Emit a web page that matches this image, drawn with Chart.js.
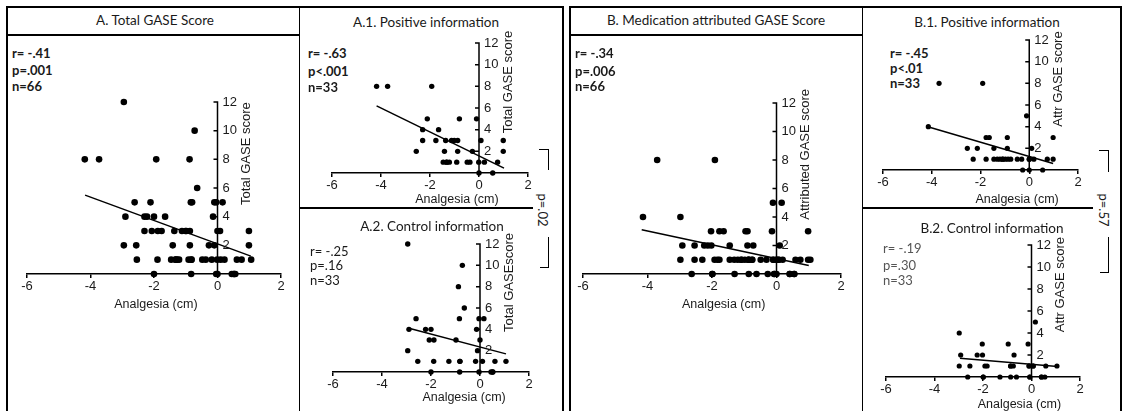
<!DOCTYPE html>
<html>
<head>
<meta charset="utf-8">
<script src="https://cdn.jsdelivr.net/npm/chart.js@4.4.1/dist/chart.umd.min.js"></script>
<style>
  body { margin: 0; background: #fff; }
  #wrap { position: relative; width: 1123px; height: 411px; overflow: hidden; font-family: Lato, "Open Sans", sans-serif; color: #1a1a1a; }
  .ln { position: absolute; background: #000; }
  .ttl { position: absolute; font-size: 13.5px; transform: translate(-50%, -50%); white-space: nowrap; }
  .st { position: absolute; font-size: 13px; transform: translateY(-50%); white-space: nowrap; }
  .pv { position: absolute; font-size: 13px; transform: translate(-50%, -50%) rotate(90deg); white-space: nowrap; }
  canvas { position: absolute; }
</style>
</head>
<body>
<div id="wrap"></div>
<script>
// values: analgesia (cm) vs GASE score
const a1X = [-4.18, -3.73, -1.93, -2.11, -0.80, -0.10, -2.30, -1.65,
  -2.30, -1.76, -1.36, -1.12, -1.01, -0.87, 0.08, 0.99,
  -2.56, -1.41, -0.87, -0.27, 0.99,
  -1.46, -1.32, -1.32, -1.21, -0.91, -0.48, -0.37, -0.01, 0.22, 0.76,
  0.00, 0.56];
const a1Y = [8, 8, 8, 5, 5, 5, 4, 4,
  3, 3, 3, 3, 3, 3, 3, 3,
  2, 2, 2, 2, 2,
  1, 1, 1, 1, 1, 1, 1, 1, 1, 1,
  0, 0];

const a2X = [-2.95, -0.72, -0.88, -0.64, -2.61, -0.84, -0.04, 0.16,
  -2.90, -2.22, -2.00, -0.14, -2.07, -1.88, -0.98, 0.00,
  -2.95, -0.10,
  -2.54, -1.89, -1.27, -0.82, -0.82, -0.18, 0.10, 0.61, 1.06,
  -2.00, -0.83, -0.04, 0.45, 0.52, 0.52];
const a2Y = [12, 10, 8, 6, 5, 5, 5, 5,
  4, 4, 4, 4, 3, 3, 3, 3,
  2, 2,
  1, 1, 1, 1, 1, 1, 1, 1, 1,
  0, 0, 0, 0, 0, 0];

const b1X = [-3.70, -1.91, -0.11, -4.14, -1.77, -1.64, -0.90, 0.98,
  -2.54, -2.13, -1.45, -0.90, 0.10,
  -2.30, -1.77, -1.45, -1.31, -1.20, -1.09, -1.09, -0.98, -0.87, -0.76, -0.49, -0.31, 0.00, 0.00, 0.19, 0.74, 0.98,
  -0.27, 0.00, 0.55];
const b1Y = [8, 8, 5, 4, 3, 3, 3, 3,
  2, 2, 2, 2, 2,
  1, 1, 1, 1, 1, 1, 1, 1, 1, 1, 1, 1, 1, 1, 1, 1, 1,
  0, 0, 0];

const b2X = [0.16, -2.98, -2.03, -0.96, -0.14, -2.92, -2.24, -2.02, -0.72,
  -2.98, -2.54, -1.92, -1.83, -0.86, -0.86, -0.75, -0.10, -0.10, 0.07, 0.07, 0.59, 1.05,
  -2.63, -1.99, -1.99, -1.30, -0.86, -0.62, -0.07, -0.07, 0.41, 0.41, 0.55];
const b2Y = [5, 4, 3, 3, 3, 2, 2, 2, 2,
  1, 1, 1, 1, 1, 1, 1, 1, 1, 1, 1, 1, 1,
  0, 0, 0, 0, 0, 0, 0, 0, 0, 0, 0];

// whole samples = positive + control groups
const aX = a1X.concat(a2X), aY = a1Y.concat(a2Y);
const bX = b1X.concat(b2X), bY = b1Y.concat(b2Y);

// regression line end points as drawn
const aFitX = [-4.17, 1.05],  aFitY = [5.5, 1.25];
const a1FitX = [-4.18, 1.02], a1FitY = [6.2, 0.45];
const a2FitX = [-2.9, 1.06],  a2FitY = [4.1, 1.7];
const bFitX = [-4.18, 1.0],   bFitY = [3.1, 0.6];
const b1FitX = [-4.16, 0.98], b1FitY = [4.0, 0.6];
const b2FitX = [-2.95, 1.07], b2FitY = [1.7, 0.95];

const yTicks = [2, 4, 6, 8, 10, 12];

const panels = [
  { title: 'A. Total GASE Score', tx: 155, ty: 20, stats: ['r= -.41', 'p=.001', 'n=66'], bold: true, sx: 12, sy: [53, 70, 86],
    xs: aX, ys: aY, fx: aFitX, fy: aFitY, yTitle: 'Total GASE score', area: [27, 102, 281, 274], r: 3.3, xtAt: -1.94, xtDy: 31 },
  { title: 'A.1. Positive information', tx: 426, ty: 22, stats: ['r= -.63', 'p<.001', 'n=33'], bold: true, sx: 308, sy: [53, 71, 87],
    xs: a1X, ys: a1Y, fx: a1FitX, fy: a1FitY, yTitle: 'Total GASE score', area: [332, 43, 528, 173], r: 2.7, xtAt: -0.9, xtDy: 27 },
  { title: 'A.2. Control information', tx: 432, ty: 226, stats: ['r= -.25', 'p=.16', 'n=33'], bold: false, sx: 310, sy: [251, 265, 280],
    xs: a2X, ys: a2Y, fx: a2FitX, fy: a2FitY, yTitle: 'Total GASEscore', area: [333, 244, 529, 372], r: 2.7, xtAt: -0.65, xtDy: 26 },
  { title: 'B. Medication attributed GASE Score', tx: 716, ty: 20, stats: ['r= -.34', 'p=.006', 'n=66'], bold: true, sx: 575, sy: [53, 71, 86],
    xs: bX, ys: bY, fx: bFitX, fy: bFitY, yTitle: 'Attributed GASE score', area: [583, 102.5, 841, 273.5], r: 3.3, xtAt: -1.64, xtDy: 31 },
  { title: 'B.1. Positive information', tx: 987, ty: 22, stats: ['r= -.45', 'p<.01', 'n=33'], bold: true, sx: 890, sy: [53, 68, 83],
    xs: b1X, ys: b1Y, fx: b1FitX, fy: b1FitY, yTitle: 'Attr GASE score', area: [883, 40, 1078, 170], r: 2.6, xtAt: -0.5, xtDy: 30 },
  { title: 'B.2. Control information', tx: 992, ty: 228, stats: ['r= -.19', 'p=.30', 'n=33'], bold: false, grey: true, sx: 883, sy: [248, 265, 280],
    xs: b2X, ys: b2Y, fx: b2FitX, fy: b2FitY, yTitle: 'Attr GASE score', area: [886, 245, 1080, 377], r: 2.6, xtAt: -0.5, xtDy: 28 }
];

const wrap = document.getElementById('wrap');
function line(x, y, w, h) {
  const d = document.createElement('div');
  d.className = 'ln';
  Object.assign(d.style, { left: x + 'px', top: y + 'px', width: w + 'px', height: h + 'px' });
  wrap.appendChild(d);
}
function text(cls, str, x, y, extra) {
  const d = document.createElement('div');
  d.className = cls;
  d.textContent = str;
  d.style.left = x + 'px';
  d.style.top = y + 'px';
  if (extra) Object.assign(d.style, extra);
  wrap.appendChild(d);
}

// frames
line(6, 6, 557, 1.5); line(569, 6, 553, 1.5);
line(6, 6, 1.5, 405); line(298.5, 6, 1.5, 405); line(562, 6, 1.5, 405);
line(569, 6, 1.5, 405); line(861.5, 6, 1.5, 405); line(1120, 6, 1.5, 405);
line(6, 34, 294, 1.5); line(569, 34, 294, 1.5);
line(299, 207, 234, 1.5); line(862, 207, 231, 1.5);

// between-group comparison brackets
line(539, 149, 10, 1.2); line(548, 149, 1.2, 21); line(548, 237, 1.2, 31); line(540, 267, 9, 1.2);
text('pv', 'p=.02', 543, 210);
line(1099, 150, 10, 1.2); line(1108, 150, 1.2, 22); line(1108, 237, 1.2, 36); line(1100, 272, 9, 1.2);
text('pv', 'p=.57', 1104, 210);

const axesPlugin = {
  id: 'gaseAxes',
  afterDraw(chart, args, o) {
    const { ctx, scales: { x, y } } = chart;
    const x0 = x.getPixelForValue(0);
    ctx.save();
    ctx.strokeStyle = '#000';
    ctx.lineWidth = 1.5;
    ctx.beginPath();
    ctx.moveTo(x0, y.getPixelForValue(0));
    ctx.lineTo(x0, y.getPixelForValue(12) - 0.75);
    yTicks.forEach(v => {
      const py = y.getPixelForValue(v);
      ctx.moveTo(x0 - 4, py);
      ctx.lineTo(x0, py);
    });
    ctx.stroke();
    ctx.fillStyle = '#1a1a1a';
    ctx.font = '13px "Liberation Sans", Arial, sans-serif';
    ctx.textAlign = 'left';
    ctx.textBaseline = 'middle';
    yTicks.forEach(v => ctx.fillText(String(v), x0 + 5, y.getPixelForValue(v)));
    ctx.font = '12.5px "Liberation Sans", Arial, sans-serif';
    ctx.textAlign = 'center';
    ctx.fillText('Analgesia (cm)', x.getPixelForValue(o.xtAt), y.getPixelForValue(0) + o.xtDy);
    ctx.translate(x0 + 29, y.getPixelForValue(8.4));
    ctx.rotate(-Math.PI / 2);
    ctx.font = '13px "Liberation Sans", Arial, sans-serif';
    ctx.fillText(o.yTitle, 0, 0);
    ctx.restore();
  }
};

const AX = 22, ML = 16, MR = 48, MT = 14, MB = 44;

panels.forEach(p => {
  text('ttl', p.title, p.tx, p.ty);
  p.stats.forEach((s, i) => text('st', s, p.sx, p.sy[i], {
    fontWeight: p.bold ? '700' : '400', color: p.grey ? '#555' : '#1a1a1a'
  }));

  const [L, T, R, B] = p.area;
  const cv = document.createElement('canvas');
  const w = Math.round(R - L + ML + MR), h = Math.round(B - T + MT + MB);
  cv.width = w; cv.height = h;
  Object.assign(cv.style, { left: (L - ML) + 'px', top: (T - MT) + 'px', width: w + 'px', height: h + 'px' });
  wrap.appendChild(cv);

  new Chart(cv, {
    type: 'scatter',
    data: {
      datasets: [
        {
          data: p.fx.map((v, i) => ({ x: v, y: p.fy[i] })),
          showLine: true, borderColor: '#000', borderWidth: 1.5, pointRadius: 0, clip: false
        },
        {
          data: p.xs.map((v, i) => ({ x: v, y: p.ys[i] })),
          backgroundColor: '#000', borderWidth: 0, pointRadius: p.r, clip: false
        }
      ]
    },
    options: {
      responsive: false,
      animation: false,
      layout: { padding: { left: ML, right: MR, top: MT, bottom: MB - AX } },
      plugins: {
        legend: { display: false },
        tooltip: { enabled: false },
        gaseAxes: { yTitle: p.yTitle, xtAt: p.xtAt, xtDy: p.xtDy }
      },
      scales: {
        x: {
          type: 'linear', min: -6, max: 2,
          afterFit: s => { s.height = AX; },
          border: { display: true, color: '#000', width: 1.5 },
          grid: { display: true, drawOnChartArea: false, drawTicks: true, tickLength: 4, color: '#000', lineWidth: 1.5 },
          ticks: { stepSize: 2, autoSkip: false, maxRotation: 0, padding: 1, color: '#1a1a1a',
                   font: { family: '"Liberation Sans", Arial, sans-serif', size: 13 } }
        },
        y: { type: 'linear', min: 0, max: 12, display: false }
      }
    },
    plugins: [axesPlugin]
  });
});
</script>
</body>
</html>
